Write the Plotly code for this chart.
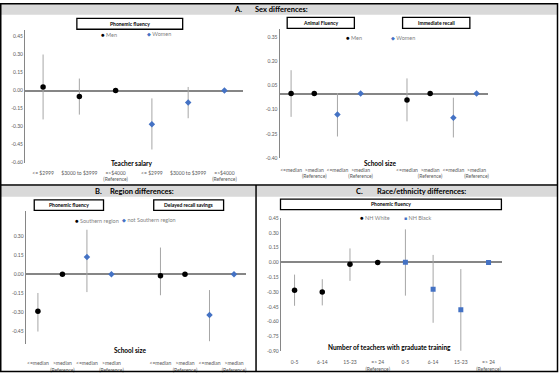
import plotly.graph_objects as go

W, H = 560, 376

# ---------------- Data ----------------
# Panel A (left): Phonemic fluency by teacher salary
salary_labels = ["<= $2999", "$3000 to $3999", "=>$4000<br>(Reference)"]
men_salary_est = [0.03, -0.05, 0.00]
men_salary_lo = [-0.24, -0.20, None]
men_salary_hi = [0.30, 0.10, None]
women_salary_est = [-0.28, -0.10, 0.00]
women_salary_lo = [-0.49, -0.23, None]
women_salary_hi = [-0.065, 0.03, None]

# Panel A (right): Animal fluency, Immediate recall by school size
size_labels = ["<=median", ">median<br>(Reference)"]
men_size_est = [0.00, 0.00, -0.04, 0.00]
men_size_lo = [-0.145, None, -0.173, None]
men_size_hi = [0.145, None, 0.094, None]
women_size_est = [-0.13, 0.00, -0.15, 0.00]
women_size_lo = [-0.267, None, -0.273, None]
women_size_hi = [0.003, None, -0.026, None]

# Panel B: Phonemic fluency, Delayed recall savings by school size
south_est = [-0.29, 0.00, -0.012, 0.00]
south_lo = [-0.45, None, -0.165, None]
south_hi = [-0.147, None, 0.21, None]
nonsouth_est = [0.135, 0.00, -0.32, 0.00]
nonsouth_lo = [-0.14, None, -0.526, None]
nonsouth_hi = [0.35, None, -0.124, None]

# Panel C: Phonemic fluency by number of teachers with graduate training
grad_labels = ["0-5", "6-14", "15-23", "=> 24<br>(Reference)"]
white_est = [-0.283, -0.30, -0.017, 0.00]
white_lo = [-0.44, -0.436, -0.187, None]
white_hi = [-0.123, -0.17, 0.143, None]
black_est = [0.003, -0.273, -0.48, 0.00]
black_lo = [-0.337, -0.613, -0.897, None]
black_hi = [0.337, 0.077, -0.067, None]

# Y-axis tick values
yticks_a1 = [0.45, 0.30, 0.15, 0.00, -0.15, -0.30, -0.45, -0.60]
yticks_a2 = [0.35, 0.20, 0.05, -0.10, -0.25, -0.40]
yticks_b = [0.30, 0.15, 0.00, -0.15, -0.30, -0.45]
yticks_c = [0.45, 0.30, 0.15, 0.00, -0.15, -0.30, -0.45, -0.60, -0.75, -0.90]

# ---------------- Styling ----------------
FONT = "Lato, 'Open Sans', sans-serif"
BLACK = "#000000"
BLUE = "#4472C4"
ERR = "#a6a6a6"
AXIS = "#868686"
TICK = "#595959"
LEG = "#7f7f7f"
HEADBG = "#d9d9d9"


def px_x(a, b):
    return [a / W, b / W]


def px_y(top, bottom):
    return [1 - bottom / H, 1 - top / H]


def ci_trace(xs, est, lo, hi, name, color, symbol, size, xa, ya):
    plus = [0 if h is None else h - e for e, h in zip(est, hi)]
    minus = [0 if l is None else e - l for e, l in zip(est, lo)]
    return go.Scatter(
        x=xs, y=est, mode="markers", name=name,
        marker=dict(color=color, symbol=symbol, size=size, line=dict(width=0)),
        error_y=dict(type="data", symmetric=False, array=plus, arrayminus=minus,
                     color=ERR, thickness=1, width=0),
        xaxis=xa, yaxis=ya, showlegend=False,
    )


fig = go.Figure()

# Panel A left positions
n_sal = len(salary_labels)
men_sal_x = list(range(n_sal))
women_sal_x = [n_sal + i for i in range(n_sal)]
fig.add_trace(ci_trace(men_sal_x, men_salary_est, men_salary_lo, men_salary_hi, "Men", BLACK, "circle", 5.5, "x", "y"))
fig.add_trace(ci_trace(women_sal_x, women_salary_est, women_salary_lo, women_salary_hi, "Women", BLUE, "diamond", 5, "x", "y"))


# Grouped positions with gap between outcome blocks (2 outcomes x 2 groups x 2 levels)
def block_pos(group):
    n = len(size_labels)
    return [b * (2 * n + 1) + group * n + k for b in range(2) for k in range(n)]


pos_g0 = block_pos(0)
pos_g1 = block_pos(1)
all_block_pos = sorted(pos_g0 + pos_g1)
block_text = [size_labels[i % 2] for i in range(len(all_block_pos))]

fig.add_trace(ci_trace(pos_g0, men_size_est, men_size_lo, men_size_hi, "Men", BLACK, "circle", 5.5, "x2", "y2"))
fig.add_trace(ci_trace(pos_g1, women_size_est, women_size_lo, women_size_hi, "Women", BLUE, "diamond", 5, "x2", "y2"))

fig.add_trace(ci_trace(pos_g0, south_est, south_lo, south_hi, "Southern region", BLACK, "circle", 5.5, "x3", "y3"))
fig.add_trace(ci_trace(pos_g1, nonsouth_est, nonsouth_lo, nonsouth_hi, "not Southern region", BLUE, "diamond", 5, "x3", "y3"))

n_g = len(grad_labels)
white_x = list(range(n_g))
black_x = [n_g + i for i in range(n_g)]
fig.add_trace(ci_trace(white_x, white_est, white_lo, white_hi, "NH White", BLACK, "circle", 5.5, "x4", "y4"))
fig.add_trace(ci_trace(black_x, black_est, black_lo, black_hi, "NH Black", BLUE, "square", 5, "x4", "y4"))


def xaxis(dom, rng, tv, tt, anchor, standoff):
    return dict(domain=dom, range=rng, anchor=anchor, tickvals=tv, ticktext=tt,
                showgrid=False, zeroline=False, showline=False, ticks="",
                tickfont=dict(size=5, color=TICK, family=FONT), tickangle=0,
                ticklabelstandoff=standoff, fixedrange=True)


def yaxis(dom, rng, tv, anchor):
    return dict(domain=dom, range=rng, anchor=anchor, tickvals=tv,
                ticktext=[f"{v:.2f}" for v in tv],
                showgrid=False, zeroline=True, zerolinecolor=AXIS, zerolinewidth=1.5,
                showline=True, linecolor=AXIS, linewidth=1, ticks="",
                tickfont=dict(size=5, color=TICK, family=FONT), fixedrange=True)


all_sal_x = men_sal_x + women_sal_x
fig.update_layout(
    xaxis=xaxis(px_x(25, 243), [-0.5, 5.5], all_sal_x, salary_labels * 2, "y", 6),
    yaxis=yaxis(px_y(27.9, 162.3), [-0.6, 0.5], yticks_a1, "x"),
    xaxis2=xaxis(px_x(280, 489), [-0.5, 8.5], all_block_pos, block_text, "y2", 8),
    yaxis2=yaxis(px_y(26.6, 157.4), [-0.4, 0.4], yticks_a2, "x2"),
    xaxis3=xaxis(px_x(25.7, 246.7), [-0.5, 8.5], all_block_pos, block_text, "y3", 15),
    yaxis3=yaxis(px_y(211.0, 346.8), [-0.55, 0.5], yticks_b, "x3"),
    xaxis4=xaxis(px_x(281.2, 503.3), [-0.5, 7.5], white_x + black_x, grad_labels * 2, "y4", 7),
    yaxis4=yaxis(px_y(218.7, 353.7), [-0.9, 0.45], yticks_c, "x4"),
)

shapes = []
annotations = []


def rect(x0, y0, x1, y1, line_w=1.2, fill=None, lc=BLACK):
    shapes.append(dict(type="rect", xref="paper", yref="paper",
                       x0=x0 / W, x1=x1 / W, y0=1 - y1 / H, y1=1 - y0 / H,
                       line=dict(color=lc, width=line_w),
                       fillcolor=fill if fill else "rgba(0,0,0,0)", layer="below" if fill else "above"))


def line(x0, y0, x1, y1, w=1.5):
    shapes.append(dict(type="line", xref="paper", yref="paper",
                       x0=x0 / W, x1=x1 / W, y0=1 - y0 / H, y1=1 - y1 / H,
                       line=dict(color=BLACK, width=w)))


def text(x, y, s, size=6, color=BLACK, bold=False, xanchor="center"):
    if bold:
        s = f"<b>{s}</b>"
    annotations.append(dict(xref="paper", yref="paper", x=x / W, y=1 - y / H, text=s,
                            showarrow=False, xanchor=xanchor, yanchor="middle",
                            font=dict(size=size, color=color, family=FONT)))


# Header bands
rect(1, 1, 558, 12, line_w=0, fill=HEADBG)
rect(1, 186, 256, 197, line_w=0, fill=HEADBG)
rect(257, 186, 558, 197, line_w=0, fill=HEADBG)

# Borders
rect(0.75, 0.75, 558.5, 374.5, line_w=1.5)
line(0.75, 185, 558.5, 185)
line(256.5, 185, 256.5, 374.5)

# Headers
text(238, 6.5, "A.", size=7.5, bold=True)
text(253, 6.5, "Sex differences:", size=7.5, bold=True, xanchor="left")
text(99, 191.5, "B.", size=7.5, bold=True)
text(108, 191.5, "Region differences:", size=7.5, bold=True, xanchor="left")
text(360, 191.5, "C.", size=7.5, bold=True)
text(376, 191.5, "Race/ethnicity differences:", size=7.5, bold=True, xanchor="left")

# Outcome title boxes
boxes = [
    (77, 15.7, 183, 26.7, "Phonemic fluency"),
    (287.7, 14.7, 355, 25.7, "Animal Fluency"),
    (403.3, 14.7, 470.7, 25.7, "Immediate recall"),
    (34.3, 200, 103.7, 210.7, "Phonemic fluency"),
    (154, 200, 224, 210.7, "Delayed recall savings"),
    (281, 199.3, 502.3, 210, "Phonemic fluency"),
]
for x0, y0, x1, y1, s in boxes:
    rect(x0, y0, x1, y1, line_w=1.3)
    text((x0 + x1) / 2, (y0 + y1) / 2, s, size=5, bold=True)

# Axis titles
text(132, 163.5, "Teacher salary", size=6.5, bold=True)
text(380.7, 163.5, "School size", size=6.5, bold=True)
text(130.7, 353.5, "School size", size=6.5, bold=True)
text(389.8, 350.5, "Number of teachers with graduate training", size=6.5, bold=True)


# Legends (marker glyph + series name)
def legend_item(x, y, glyph, gcolor, name, gsize=6):
    annotations.append(dict(xref="paper", yref="paper", x=(x - 2.5) / W, y=1 - y / H,
                            text=f"<span style='color:{gcolor};font-size:{gsize}px'>{glyph}</span> {name}",
                            showarrow=False, xanchor="left", yanchor="middle",
                            font=dict(size=5.5, color=LEG, family=FONT)))


legend_item(101.7, 32, "●", BLACK, "Men")
legend_item(148, 32, "◆", BLUE, "Women", gsize=4.5)
legend_item(346.7, 35.3, "●", BLACK, "Men")
legend_item(391.7, 35.3, "◆", BLUE, "Women", gsize=4.5)
legend_item(76, 221, "●", BLACK, "Southern region")
legend_item(122.7, 221, "◆", BLUE, "not Southern region", gsize=4.5)
legend_item(360.7, 218, "●", BLACK, "NH White")
legend_item(405, 218, "■", BLUE, "NH Black", gsize=5)

fig.update_layout(
    width=W, height=H, autosize=False,
    margin=dict(l=0, r=0, t=0, b=0),
    paper_bgcolor="white", plot_bgcolor="rgba(0,0,0,0)",
    showlegend=False,
    shapes=shapes, annotations=annotations,
    font=dict(family=FONT, size=6, color=TICK),
)

fig.write_html("out.html", config={"displayModeBar": False},
               post_script="document.body.style.margin='0';document.body.style.overflow='hidden';")
